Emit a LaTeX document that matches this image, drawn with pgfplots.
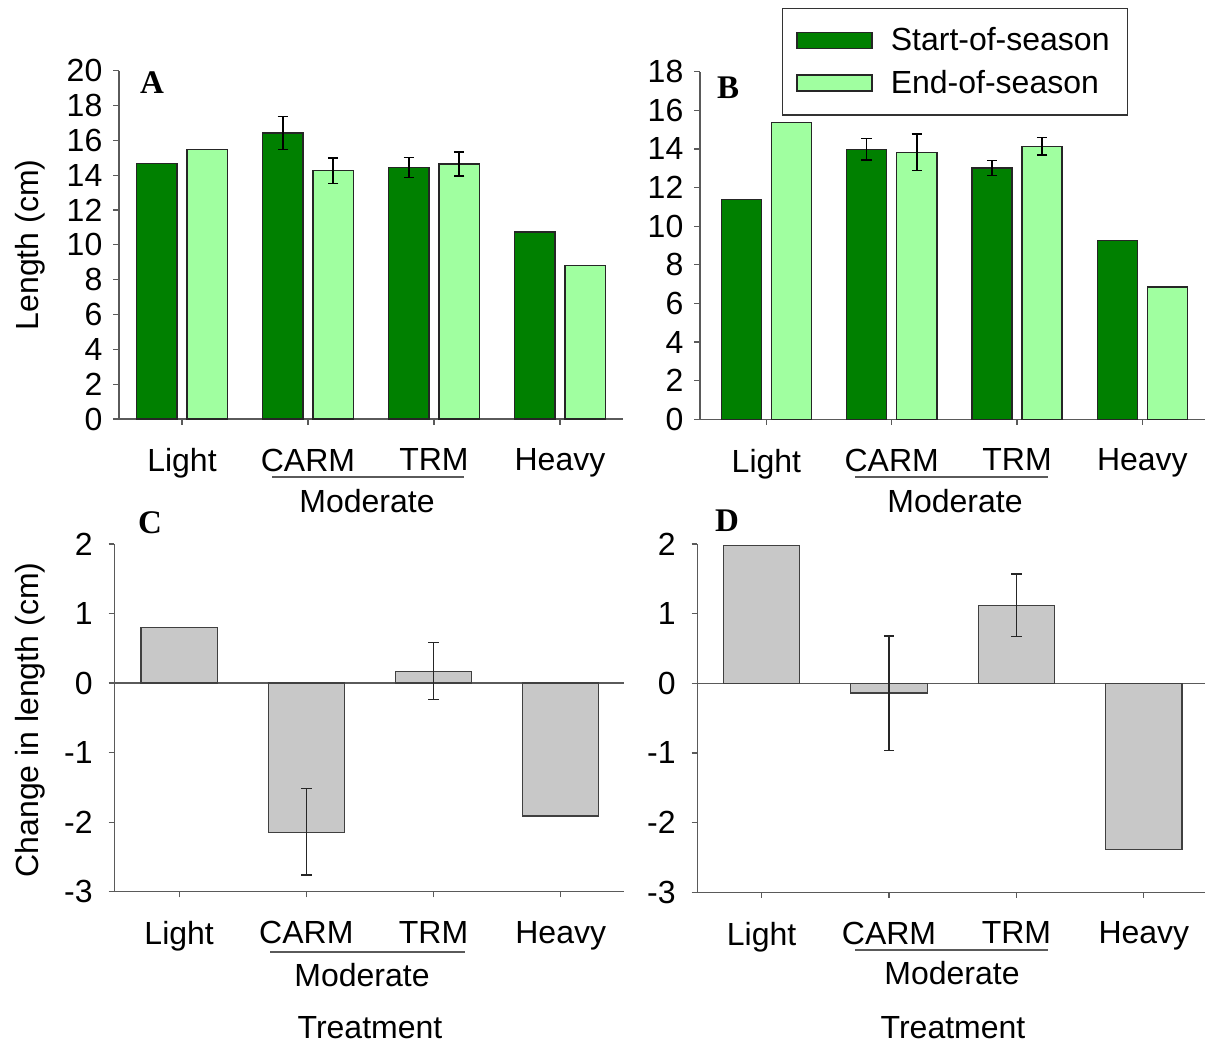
\documentclass[border=0pt]{standalone}
\usepackage{fontspec}
\setmainfont{Liberation Sans}
\newfontfamily\serifb{Liberation Serif}
\usepackage{pgfplots}
\pgfplotsset{compat=1.18}
\definecolor{dg}{RGB}{0,128,0}
\definecolor{lg}{RGB}{160,255,160}
\definecolor{gb}{RGB}{200,200,200}
\definecolor{ax}{RGB}{90,90,90}
\newcommand{\fs}{\fontsize{16}{19}\selectfont}
\pgfplotsset{
  base/.style={
    scale only axis, clip=false,
    axis x line=bottom, axis y line=left,
    every outer x axis line/.append style={-},
    every outer y axis line/.append style={-},
    every inner x axis line/.append style={-},
    every inner y axis line/.append style={-},
    axis line style={ax, line width=0.7pt, -},
    tick style={ax, line width=0.6pt},
    tick align=outside, major tick length=2.8pt,
    xtick={0,1,2,3}, xticklabels={Light,CARM,TRM,Heavy},
    /pgf/number format/assume math mode=true,
    tick label style={font=\fs, black},
    xticklabel style={yshift=-8.5pt},
  },
  bars/.style={ybar, bar width=0.32, draw=black!85, line width=0.7pt},
  errs/.style={draw=none, no markers, forget plot,
    /pgfplots/error bars/y dir=both, /pgfplots/error bars/y explicit,
    /pgfplots/error bars/error bar style={draw=black, solid, line width=0.8pt},
    /pgfplots/error bars/error mark options={rotate=90, draw=black, solid, mark size=2.6pt, line width=0.8pt}},
  gbars/.style={ybar, bar width=0.6, bar shift=0pt, fill=gb, draw=black!75, line width=0.6pt},
  gerrs/.style={draw=none, no markers, forget plot,
    /pgfplots/error bars/y dir=both, /pgfplots/error bars/y explicit,
    /pgfplots/error bars/error bar style={draw=black!85, solid, line width=0.6pt},
    /pgfplots/error bars/error mark options={rotate=90, draw=black!85, solid, mark size=2.6pt, line width=0.6pt}},
}
\begin{document}
\begin{tikzpicture}
\useasboundingbox (0,0) rectangle (602.5pt,522pt);
% ---------- A ----------
\begin{axis}[base, at={(59.5pt,312.5pt)}, anchor=south west,
  width=252pt, height=174.2pt, xmin=-0.5, xmax=3.5, ymin=0, ymax=20,
  ytick={0,2,...,20}, yticklabel style={xshift=-2pt}]
\addplot[bars, bar shift=-0.2, fill=dg] coordinates {(0,14.65) (1,16.41) (2,14.44) (3,10.73)};
\addplot[bars, bar shift=0.2, fill=lg] coordinates {(0,15.47) (1,14.25) (2,14.63) (3,8.82)};
\addplot[errs] coordinates {(0.8,16.41) +- (0,0.95) (1.8,14.44) +- (0,0.58)};
\addplot[errs] coordinates {(1.2,14.25) +- (0,0.72) (2.2,14.63) +- (0,0.68)};
\end{axis}
% ---------- B ----------
\begin{axis}[base, at={(350pt,312.35pt)}, anchor=south west,
  width=252.5pt, height=173.8pt, xmin=-0.53, xmax=3.5, ymin=0, ymax=18,
  ytick={0,2,...,18}, yticklabel style={xshift=-2pt},
  legend style={at={(axis description cs:0.162,1.183)}, anchor=north west,
    draw=black!80, line width=0.6pt, font=\fs, inner xsep=7pt, inner ysep=7.5pt,
    row sep=4pt, cells={anchor=west}}]
\addplot[bars, bar shift=-0.2, fill=dg,
  legend image code/.code={\draw[fill=dg, draw=black!85, line width=0.7pt] (0pt,-4pt) rectangle (37.5pt,4pt);}]
  coordinates {(0,11.39) (1,13.98) (2,13.01) (3,9.25)};
\addlegendentry{\hspace{7pt}Start-of-season}
\addplot[bars, bar shift=0.2, fill=lg,
  legend image code/.code={\draw[fill=lg, draw=black!85, line width=0.7pt] (0pt,-4pt) rectangle (37.5pt,4pt);}]
  coordinates {(0,15.36) (1,13.83) (2,14.14) (3,6.85)};
\addlegendentry{\hspace{7pt}End-of-season}
\addplot[errs] coordinates {(0.8,13.98) +- (0,0.56) (1.8,13.01) +- (0,0.39)};
\addplot[errs] coordinates {(1.2,13.83) +- (0,0.95) (2.2,14.14) +- (0,0.46)};
\end{axis}
% ---------- C ----------
\begin{axis}[base, at={(57.15pt,76.15pt)}, anchor=south west,
  width=255pt, height=173.85pt, xmin=-0.51, xmax=3.5, ymin=-3, ymax=2,
  ytick={-3,-2,...,2}, yticklabel style={xshift=-4.5pt}]
\draw[ax, line width=0.7pt] (axis cs:-0.51,0) -- (axis cs:3.5,0);
\addplot[gbars] coordinates {(0,0.80) (1,-2.15) (2,0.17) (3,-1.91)};
\addplot[gerrs] coordinates {(1,-2.14) +- (0,0.62) (2,0.17) +- (0,0.41)};
\end{axis}
% ---------- D ----------
\begin{axis}[base, at={(348.65pt,75.85pt)}, anchor=south west,
  width=253.85pt, height=174.15pt, xmin=-0.505, xmax=3.48, ymin=-3, ymax=2,
  ytick={-3,-2,...,2}, yticklabel style={xshift=-4.5pt}]
\draw[ax, line width=0.7pt] (axis cs:-0.505,0) -- (axis cs:3.48,0);
\addplot[gbars] coordinates {(0,1.98) (1,-0.14) (2,1.12) (3,-2.38)};
\addplot[gerrs] coordinates {(1,-0.14) +- (0,0.82) (2,1.12) +- (0,0.45)};
\end{axis}
% ---------- annotations (pixel coordinates) ----------
\begin{scope}[x=0.5pt, y=-0.5pt, yshift=522pt]
\node[rotate=90, font=\fs] at (30,245) {Length (cm)};
\node[rotate=90, font=\fs] at (30,720) {Change in length (cm)};
\node[font=\fs] at (367,501) {Moderate};
\node[font=\fs] at (955,501) {Moderate};
\node[font=\fs] at (362,975) {Moderate};
\node[font=\fs] at (952,973) {Moderate};
\draw[ax, line width=0.6pt] (272,477) -- (464,477);
\draw[ax, line width=0.6pt] (855,477) -- (1048,477);
\draw[ax, line width=0.6pt] (270,952) -- (465,952);
\draw[ax, line width=0.6pt] (855,950) -- (1048,950);
\node[font=\fs] at (370,1028) {Treatment};
\node[font=\fs] at (953,1028) {Treatment};
\node[font=\serifb\bfseries\fontsize{16.5}{18}\selectfont] at (152,83) {A};
\node[font=\serifb\bfseries\fontsize{16.5}{18}\selectfont] at (728,88) {B};
\node[font=\serifb\bfseries\fontsize{16.5}{18}\selectfont] at (150,523) {C};
\node[font=\serifb\bfseries\fontsize{16.5}{18}\selectfont] at (727,521) {D};
\end{scope}
\end{tikzpicture}
\end{document}
